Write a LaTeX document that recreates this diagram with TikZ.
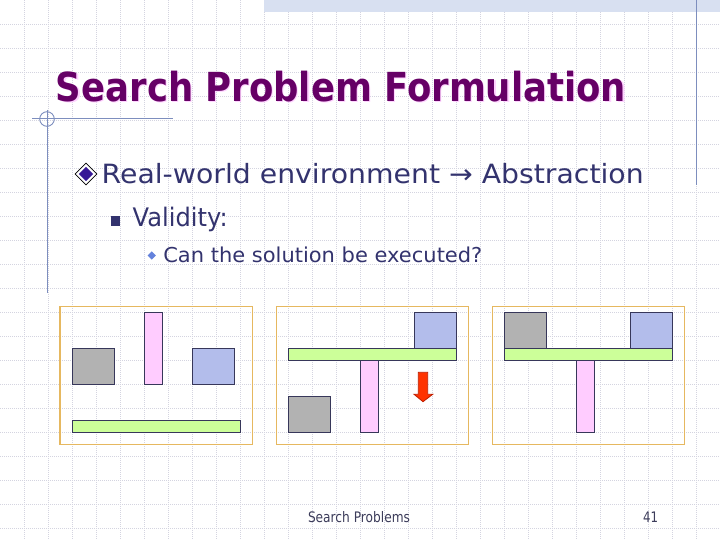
\documentclass[tikz,border=0pt]{standalone}
\usepackage{fontspec}
\setmainfont{DejaVu Sans}
\usepackage{graphicx}
\definecolor{gridc}{RGB}{212,212,224}
\definecolor{bandc}{RGB}{216,224,241}
\definecolor{linec}{RGB}{125,142,190}
\definecolor{titlec}{RGB}{102,0,102}
\definecolor{shadowc}{RGB}{255,210,255}
\definecolor{bodyc}{RGB}{51,51,110}
\definecolor{footc}{RGB}{60,60,90}
\definecolor{panelc}{RGB}{230,184,96}
\definecolor{edgec}{RGB}{55,55,90}
\definecolor{grayf}{RGB}{178,178,178}
\definecolor{pinkf}{RGB}{255,204,255}
\definecolor{bluef}{RGB}{179,189,235}
\definecolor{greenf}{RGB}{204,255,153}
\definecolor{redf}{RGB}{255,51,0}
\definecolor{redd}{RGB}{190,30,0}
\definecolor{bulletc}{RGB}{55,25,150}
\definecolor{smallbc}{RGB}{100,130,220}
\newcommand{\titletext}{\resizebox{570pt}{\height}{\fontsize{40}{44}\selectfont\bfseries Search Problem Formulation}}
\begin{document}
\begin{tikzpicture}[x=1pt,y=-1pt,
  gridline/.style={gridc,line width=0.5pt,dash pattern=on 1pt off 1pt},
  panel/.style={draw=panelc,line width=1.3pt},
  block/.style={draw=edgec,line width=0.9pt},
  txt/.style={inner sep=0pt,outer sep=0pt,anchor=base west}]
\useasboundingbox (0,0) rectangle (720,540);
\fill[white] (0,0) rectangle (720,540);
% grid
\foreach \gx in {24,48,...,696} \draw[gridline] (\gx,0) -- (\gx,540);
\foreach \gy in {24,48,...,528} \draw[gridline] (0,\gy) -- (720,\gy);
% top band
\fill[bandc] (264,0) rectangle (720,12);
% decorative lines
\draw[linec,line width=1pt] (696,0) -- (696,185);
\draw[linec,line width=1pt] (47,110) -- (47,293);
\draw[linec,line width=1pt] (32,119) -- (173,119);
\draw[linec,line width=0.9pt] (47,119) circle (7.3);
% title with its light shadow in one node
\node[txt] (title) at (56,101.7) {\makebox[0pt][l]{\hspace{1.3pt}\raisebox{-1.3pt}{\color{shadowc}\titletext}}\color{titlec}\titletext};
% bullet 1
\filldraw[fill=white,draw=black,line width=0.7pt] (86,163.2) -- (96.8,174) -- (86,184.8) -- (75.2,174) -- cycle;
\fill[bulletc] (86,166.8) -- (93.2,174) -- (86,181.2) -- (78.8,174) -- cycle;
\node[txt,text=bodyc] (l1) at (101.7,184) {\resizebox{542pt}{\height}{\fontsize{26.5}{30}\selectfont Real-world environment → Abstraction}};
% bullet 2
\fill[bodyc] (110.7,216.5) rectangle (120,225.8);
\node[txt,text=bodyc] (l2) at (132.7,226) {\resizebox{95pt}{\height}{\fontsize{25.5}{30}\selectfont Validity:}};
% bullet 3
\fill[smallbc] (151.7,251.3) -- (155.9,255.5) -- (151.7,259.7) -- (147.5,255.5) -- cycle;
\node[txt,text=bodyc] (l3) at (163.3,262) {\resizebox{319pt}{\height}{\fontsize{20.5}{24}\selectfont Can the solution be executed?}};
% panel 1
\draw[panel] (60,306.5) rectangle (252.5,444.5);
\filldraw[block,fill=grayf] (72.3,348.3) rectangle (114.5,384.3);
\filldraw[block,fill=pinkf] (144.3,312.3) rectangle (162.7,384.3);
\filldraw[block,fill=bluef] (192.7,348.3) rectangle (234.7,384.3);
\filldraw[block,fill=greenf] (72.3,420.3) rectangle (240.7,432.3);
% panel 2
\draw[panel] (276.7,306.5) rectangle (468.7,444.5);
\filldraw[block,fill=bluef] (414.3,312.3) rectangle (456.3,348.3);
\filldraw[block,fill=greenf] (288.3,348.3) rectangle (456.3,360.3);
\filldraw[block,fill=pinkf] (360.3,360.3) rectangle (378.5,432.3);
\filldraw[block,fill=grayf] (288.3,396.3) rectangle (330.5,432.3);
\filldraw[fill=redf,draw=redd,line width=0.8pt] (418.3,372.3) -- (427.7,372.3) -- (427.7,394.3) -- (432.7,394.3) -- (423,401.7) -- (414,394.3) -- (418.3,394.3) -- cycle;
% panel 3
\draw[panel] (492.7,306.5) rectangle (684.7,444.5);
\filldraw[block,fill=grayf] (504.7,312.3) rectangle (546.7,348.3);
\filldraw[block,fill=bluef] (630.3,312.3) rectangle (672.3,348.3);
\filldraw[block,fill=greenf] (504.7,348.3) rectangle (672.3,360.3);
\filldraw[block,fill=pinkf] (576.3,360.3) rectangle (594.3,432.3);
% footer
\node[txt,text=footc] (foot) at (308,522.3) {\resizebox{102pt}{\height}{\fontsize{14.5}{17}\selectfont Search Problems}};
\node[txt,text=footc] (page) at (643,522.3) {\resizebox{15pt}{\height}{\fontsize{14.5}{17}\selectfont 41}};
\end{tikzpicture}
\end{document}
